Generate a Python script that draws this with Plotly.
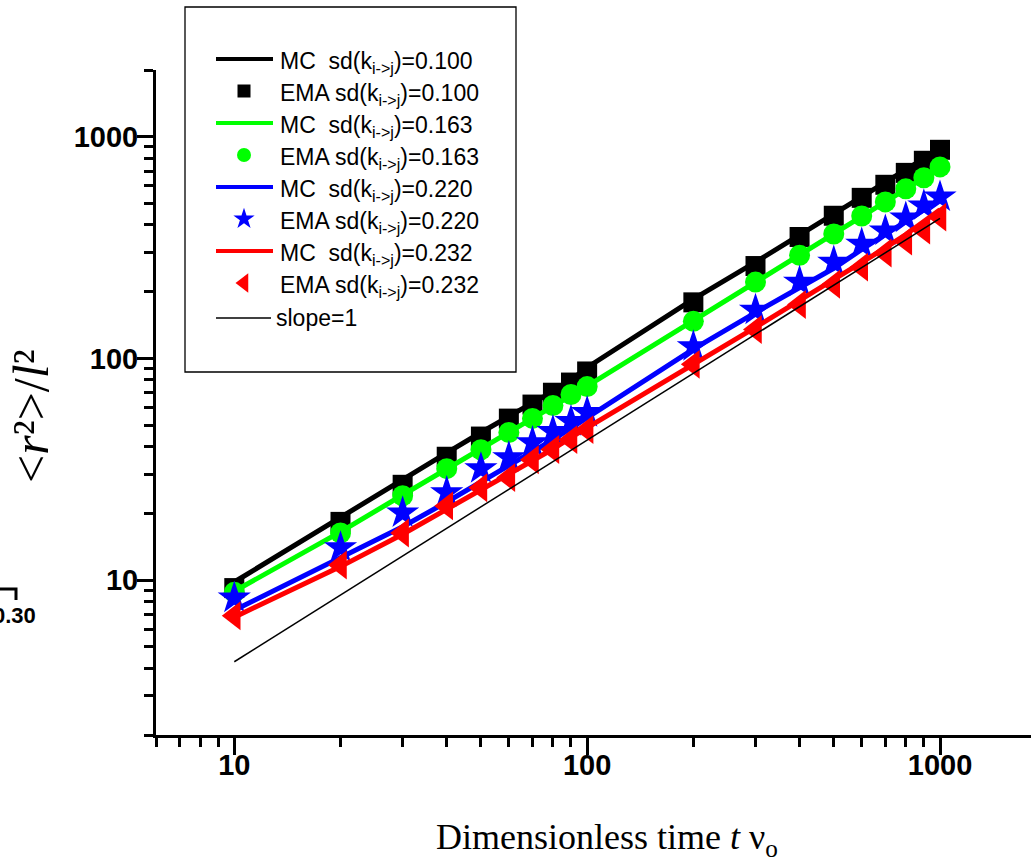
import math
import plotly.graph_objects as go

# ---------------- data ----------------
t = [10, 20, 30, 40, 50, 60, 70, 80, 90, 100, 200, 300, 400, 500, 600, 700, 800, 900, 1000]

mc_010 = [9.8, 19.3, 28.3, 37.5, 46.3, 55, 63, 71, 80, 91, 185, 272, 360, 449, 535, 620, 700, 790, 883]
ema_010 = [9.2, 18.3, 26.9, 36.0, 44.4, 53.5, 61.9, 70, 77.8, 87.3, 179, 261, 353, 440, 530, 607, 687, 779, 873]

mc_163 = [8.9, 16.5, 24.2, 31.8, 38.9, 46.3, 53.5, 61, 68.5, 75, 148, 220, 290, 362, 437, 508, 580, 652, 730]
ema_163 = [8.8, 16.3, 24.0, 31.8, 38.7, 46.3, 53.6, 61.3, 68.7, 74.6, 147, 221, 292, 364, 439, 508, 582, 653, 731]

mc_220 = [7.3, 12.6, 17.4, 22.5, 27.7, 32.5, 37.5, 43, 48.5, 54, 110, 161, 208, 255, 310, 362, 418, 470, 520]
ema_220 = [8.3, 14.0, 20.1, 24.8, 31.8, 35.7, 41.7, 46.8, 51.9, 57.0, 113, 165, 221, 272, 328, 376, 430, 488, 535]

mc_232 = [6.8, 11.5, 16.1, 20.8, 25.5, 29.8, 34.5, 39, 44, 48.7, 94, 138, 182, 228, 272, 315, 362, 415, 468]
ema_232 = [6.9, 11.7, 16.3, 21.6, 26.1, 29.0, 34.9, 38.8, 43.0, 47.7, 94.0, 135, 175, 216, 258, 299, 338, 379, 434]

slope_t = [10, 1000]
slope_v = [4.28, 428]

labels = ["0.100", "0.163", "0.220", "0.232"]
colors = ["#000000", "#00FF00", "#0000FF", "#FF0000"]
symbols = ["square", "circle", "star", "triangle-left"]
msizes = [20, 21, 25, 25]
leg_msizes = [13, 14, 16, 17]

x_ticks = [10, 100, 1000]
y_ticks = [10, 100, 1000]
x_minor = [6, 7, 8, 9, 20, 30, 40, 50, 60, 70, 80, 90, 200, 300, 400, 500, 600, 700, 800, 900]
y_minor = [2, 3, 4, 5, 6, 7, 8, 9, 20, 30, 40, 50, 60, 70, 80, 90,
           200, 300, 400, 500, 600, 700, 800, 900, 2000]

# ---------------- geometry (page pixels) ----------------
W, H = 1031, 863
X_LEFT, X_RIGHT = 156, 1031   # plot area
Y_TOP, Y_BOT = 70, 735

fig = go.Figure()

series = [(mc_010, ema_010), (mc_163, ema_163), (mc_220, ema_220), (mc_232, ema_232)]
for (mc, ema), c, s, ms in zip(series, colors, symbols, msizes):
    fig.add_trace(go.Scatter(x=t, y=mc, mode="lines", line=dict(color=c, width=5),
                             showlegend=False, xaxis="x", yaxis="y"))
    fig.add_trace(go.Scatter(x=t, y=ema, mode="markers",
                             marker=dict(symbol=s, size=ms, color=c, line=dict(width=0)),
                             showlegend=False, xaxis="x", yaxis="y"))
fig.add_trace(go.Scatter(x=slope_t, y=slope_v, mode="lines", line=dict(color="black", width=1.5),
                         showlegend=False, xaxis="x", yaxis="y"))

# ---------------- custom legend on pixel overlay axes ----------------
rows = [59, 91, 123, 155, 187, 219, 251, 283]
row_slope = 318
key_x0, key_x1, key_xm = 216, 273, 244
text_x = 278
lfont = dict(family="Liberation Sans, Arial", size=23, color="black")
for i, (c, s, lm, lab) in enumerate(zip(colors, symbols, leg_msizes, labels)):
    ry_line = rows[2 * i]
    ry_mark = rows[2 * i + 1]
    fig.add_trace(go.Scatter(x=[key_x0, key_x1], y=[ry_line, ry_line], mode="lines",
                             line=dict(color=c, width=4), showlegend=False,
                             xaxis="x2", yaxis="y2", hoverinfo="skip"))
    fig.add_trace(go.Scatter(x=[key_xm], y=[ry_mark], mode="markers",
                             marker=dict(symbol=s, size=lm, color=c, line=dict(width=0)),
                             showlegend=False, xaxis="x2", yaxis="y2", hoverinfo="skip"))
    fig.add_annotation(x=text_x, y=ry_line + 3, xref="x2", yref="y2", xanchor="left", yanchor="middle",
                       text=f"MC  sd(k<sub>i-&gt;j</sub>)={lab}", showarrow=False, font=lfont)
    fig.add_annotation(x=text_x, y=ry_mark + 3, xref="x2", yref="y2", xanchor="left", yanchor="middle",
                       text=f"EMA sd(k<sub>i-&gt;j</sub>)={lab}", showarrow=False, font=lfont)
fig.add_trace(go.Scatter(x=[key_x0, key_x1 - 2], y=[row_slope, row_slope], mode="lines",
                         line=dict(color="black", width=1.5), showlegend=False,
                         xaxis="x2", yaxis="y2", hoverinfo="skip"))
fig.add_annotation(x=text_x - 4, y=row_slope, xref="x2", yref="y2", xanchor="left", yanchor="middle",
                   text="slope=1", showarrow=False, font=lfont)

# legend frame
fig.add_shape(type="rect", x0=185, x1=516, y0=7, y1=372, xref="x2", yref="y2",
              line=dict(color="black", width=1.3))

# stray fragment at left edge (from neighbouring panel)
fig.add_shape(type="path", path="M 0 589 L 16 589 L 16 600", xref="x2", yref="y2",
              line=dict(color="black", width=3))
fig.add_annotation(x=38, y=615, xref="x2", yref="y2", xanchor="right", yanchor="middle",
                   text="0.30", showarrow=False,
                   font=dict(family="Liberation Sans, Arial", size=22, color="black", weight="bold"))

# axis titles
fig.add_annotation(x=607, y=839, xref="x2", yref="y2", xanchor="center", yanchor="middle",
                   text="Dimensionless time <i>t</i> ν<sub>o</sub>", showarrow=False,
                   font=dict(family="Liberation Serif, Times New Roman", size=36, color="black"))
fig.add_annotation(x=31, y=416, xref="x2", yref="y2", xanchor="center", yanchor="middle",
                   text="&lt;<i>r</i>²&gt;/<i>l</i>²", textangle=-90,
                   showarrow=False,
                   font=dict(family="Liberation Serif, Times New Roman", size=50, color="black"))

tickfont = dict(family="Liberation Sans, Arial", size=29, color="black", weight="bold")
fig.update_layout(
    width=W, height=H,
    margin=dict(l=0, r=0, t=0, b=0),
    paper_bgcolor="white", plot_bgcolor="rgba(0,0,0,0)",
    showlegend=False,
    xaxis=dict(type="log", range=[math.log10(6), 1 + (W - 234.3) / 352.85],
               domain=[X_LEFT / W, X_RIGHT / W], anchor="y",
               showline=True, linecolor="black", linewidth=3, mirror=False,
               showgrid=False, zeroline=False,
               ticks="outside", ticklen=17, tickwidth=3, tickcolor="black",
               ticklabelstandoff=-15,
               tickvals=x_ticks, ticktext=[str(v) for v in x_ticks], tickfont=tickfont,
               minor=dict(tickvals=x_minor, ticks="outside", ticklen=9, tickwidth=3,
                          tickcolor="black", showgrid=False)),
    yaxis=dict(type="log", range=[math.log10(2), math.log10(2000)],
               domain=[(H - Y_BOT) / H, (H - Y_TOP) / H], anchor="x",
               showline=True, linecolor="black", linewidth=3, mirror=False,
               showgrid=False, zeroline=False,
               ticks="outside", ticklen=16, tickwidth=3, tickcolor="black",
               ticklabelstandoff=-7,
               tickvals=y_ticks, ticktext=[str(v) for v in y_ticks], tickfont=tickfont,
               minor=dict(tickvals=y_minor, ticks="outside", ticklen=9, tickwidth=3,
                          tickcolor="black", showgrid=False)),
    xaxis2=dict(domain=[0, 1], range=[0, W], visible=False, anchor="y2", fixedrange=True),
    yaxis2=dict(domain=[0, 1], range=[H, 0], visible=False, anchor="x2", fixedrange=True),
)

fig.write_html("out.html", config={"displayModeBar": False},
               post_script="document.body.style.margin='0px';")
